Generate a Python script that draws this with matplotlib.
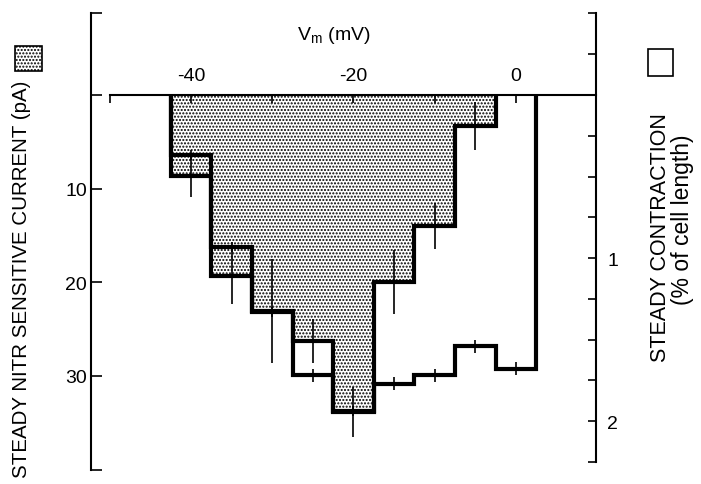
import numpy as np
import matplotlib.pyplot as plt
from matplotlib.patches import Rectangle

plt.rcParams['font.family'] = ['Liberation Sans', 'DejaVu Sans']
plt.rcParams['hatch.linewidth'] = 1.0

# 5 mV bins centred on -40 ... 0 mV
edges = [-42.5, -37.5, -32.5, -27.5, -22.5, -17.5, -12.5, -7.5, -2.5, 2.5]
centers = [-40, -35, -30, -25, -20, -15, -10, -5, 0]

# steady NITR sensitive current (pA), bins -40 ... -5
current = [8.7, 19.4, 23.1, 26.3, 33.9, 20.0, 14.0, 3.3]
current_err = [2.2, 3.0, 5.6, 2.4, 2.7, 3.4, 2.5, 2.6]

# steady contraction (% of cell length), bins -40 ... 0
contraction = [0.37, 0.93, 1.33, 1.72, 1.94, 1.77, 1.72, 1.54, 1.68]
contraction_err = [0.03, 0.03, 0.03, 0.04, 0.03, 0.04, 0.04, 0.04, 0.04]

x_ticks = [-50, -40, -30, -20, -10, 0]
x_labels = ['', '-40', '', '-20', '', '0']
cur_ticks = [-8.77, 0, 10, 20, 30, 40.1]
cur_labels = ['', '', '10', '20', '30', '']
con_ticks = np.arange(-0.5, 2.26, 0.25)
con_labels = ['1' if t == 1 else '2' if t == 2 else '' for t in con_ticks]

fig = plt.figure(figsize=(7.01, 4.85), dpi=100)
W, H = 701, 485
ax = fig.add_axes([91 / W, 1 - 471 / H, (596 - 91) / W, (471 - 14) / H])

# current: dotted fill plus thick outline
ax.stairs(current, edges[:len(current) + 1], baseline=0, fill=True,
          facecolor='white', edgecolor='black', hatch='.....', linewidth=0)
ax.stairs(current, edges[:len(current) + 1], baseline=0, fill=False,
          color='black', linewidth=3)
ax.errorbar(centers[:len(current)], current, yerr=current_err, fmt='none',
            ecolor='black', elinewidth=1.2, capsize=0)

ax.set_xlim(-52.3, 9.84)
ax.set_ylim(40.1, -8.77)

for s in ['bottom', 'right']:
    ax.spines[s].set_visible(False)
ax.spines['top'].set_position(('data', 0))
ax.spines['top'].set_bounds(-50, 9.84)
ax.spines['top'].set_linewidth(1.5)
ax.spines['left'].set_linewidth(1.5)

ax.xaxis.tick_top()
ax.set_xticks(x_ticks, x_labels)
ax.tick_params(axis='x', direction='in', length=6, width=1.2, pad=8, labelsize=14)
ax.set_yticks(cur_ticks, cur_labels)
ax.tick_params(axis='y', direction='in', length=8, width=1.2, pad=3, labelsize=14)

# contraction on the right scale
ax2 = ax.twinx()
ax2.stairs(contraction, edges, baseline=0, fill=False, color='black', linewidth=3)
ax2.errorbar(centers, contraction, yerr=contraction_err, fmt='none',
             ecolor='black', elinewidth=1.2, capsize=0)
ax2.set_ylim(2.30, -0.503)
for s in ['top', 'bottom', 'left']:
    ax2.spines[s].set_visible(False)
ax2.spines['right'].set_bounds(-0.5, 2.25)
ax2.spines['right'].set_linewidth(1.5)
ax2.set_yticks(con_ticks, con_labels)
ax2.tick_params(axis='y', direction='in', length=6, width=1.2, pad=8, labelsize=14)

fig.text(334 / W, 1 - 36 / H, r'V$_\mathregular{m}$ (mV)', ha='center', va='center', fontsize=14)

fig.text(22 / W, 1 - 279 / H, 'STEADY NITR SENSITIVE CURRENT (pA)', rotation=90,
         ha='center', va='center', fontsize=14.8)
fig.add_artist(Rectangle((15 / W, 1 - 72 / H), 27 / W, 25 / H, transform=fig.transFigure,
                         facecolor='white', edgecolor='black', hatch='.....', linewidth=1.2))

fig.text(660 / W, 1 - 238 / H, 'STEADY CONTRACTION', rotation=90,
         ha='center', va='center', fontsize=15.5)
fig.text(682 / W, 1 - 220 / H, '(% of cell length)', rotation=90,
         ha='center', va='center', fontsize=16.5)
fig.add_artist(Rectangle((648 / W, 1 - 77 / H), 25 / W, 27 / H, transform=fig.transFigure,
                         facecolor='white', edgecolor='black', linewidth=1.2))

plt.savefig('out.png', dpi=100)
